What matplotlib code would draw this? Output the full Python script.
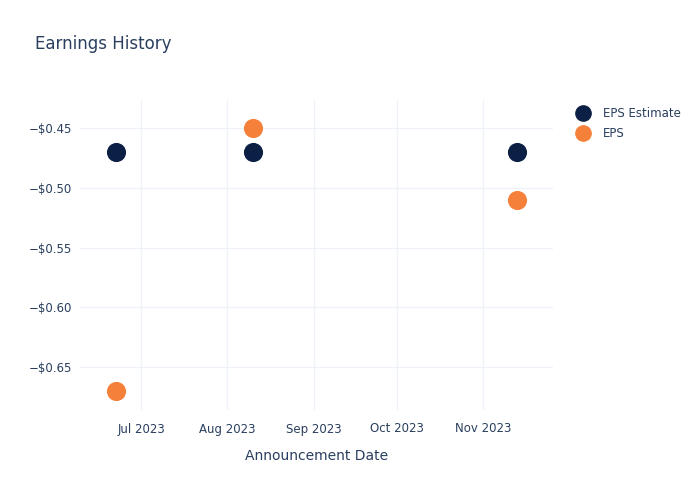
import matplotlib
matplotlib.use("Agg")
import matplotlib.pyplot as plt
import matplotlib.dates as mdates
from matplotlib.lines import Line2D
import numpy as np
import datetime as dt

dates = ["2023-06-22", "2023-08-10", "2023-11-13"]
eps_estimate = [-0.47, -0.47, -0.47]
eps_actual = [-0.67, -0.45, -0.51]
series_names = ["EPS Estimate", "EPS"]
tick_dates = ["2023-07-01", "2023-08-01", "2023-09-01", "2023-10-01", "2023-11-01"]
tick_labels = ["Jul 2023", "Aug 2023", "Sep 2023", "Oct 2023", "Nov 2023"]
y_ticks = [-0.45, -0.50, -0.55, -0.60, -0.65]

txt = "#2a3f5f"
grid = "#eef1f8"
c_est = "#0c1f44"
c_eps = "#f5803a"

plt.rcParams['font.family'] = ['DejaVu Sans']

fig = plt.figure(figsize=(7, 5), dpi=100)
ax = fig.add_axes([80/700, 90/500, 473/700, 310/500])

x = [dt.datetime.strptime(d, "%Y-%m-%d") for d in dates]
xn = mdates.date2num(x)
ax.scatter(xn, eps_estimate, s=190, color=c_est, zorder=3, linewidths=0)
ax.scatter(xn, eps_actual, s=190, color=c_eps, zorder=3, linewidths=0)

ax.set_xlim(mdates.date2num(dt.datetime(2023, 6, 9)), mdates.date2num(dt.datetime(2023, 11, 26)))
ax.set_ylim(-0.6858, -0.4267)

tx = [mdates.date2num(dt.datetime.strptime(d, "%Y-%m-%d")) for d in tick_dates]
ax.set_xticks(tx)
ax.set_xticklabels(tick_labels)
ax.set_yticks(y_ticks)
ax.set_yticklabels(["\u2212$%.2f" % abs(v) for v in y_ticks])

for s in ax.spines.values():
    s.set_visible(False)
ax.grid(True, color=grid, linewidth=0.9)
ax.set_axisbelow(True)
ax.tick_params(axis='both', length=0, colors=txt, labelsize=8.5)
ax.tick_params(axis='x', pad=9)
ax.tick_params(axis='y', pad=6)
ax.set_xlabel("Announcement Date", color=txt, fontsize=10, labelpad=10)

fig.text(35/700, 1 - 44/500, "Earnings History", color=txt, fontsize=12, va='center', ha='left')

handles = [Line2D([], [], marker='o', linestyle='', markersize=11, color=c_est),
           Line2D([], [], marker='o', linestyle='', markersize=11, color=c_eps)]
leg = fig.legend(handles, series_names, loc='upper left', bbox_to_anchor=(571/700, 1 - 101/500),
                 frameon=False, fontsize=8.5, handletextpad=1.2, labelspacing=0.6,
                 handlelength=1.0, borderpad=0)
for t in leg.get_texts():
    t.set_color(txt)

fig.savefig("out.png", dpi=100)
